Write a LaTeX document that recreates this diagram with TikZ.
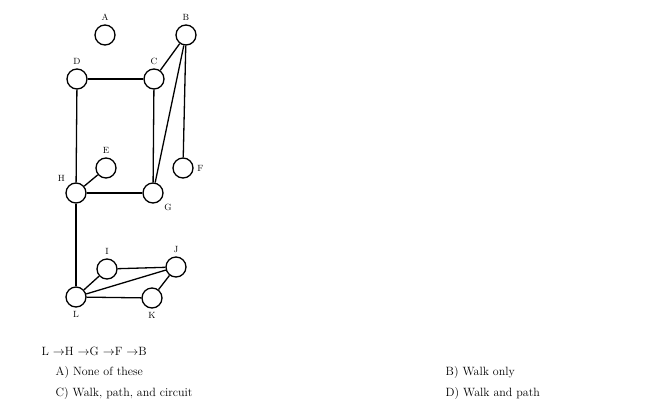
\documentclass[tikz,border=0pt]{standalone}
\usepackage{tikz}
\begin{document}
\begin{tikzpicture}[x=1pt,y=-1pt,thick,
                main node/.style={circle,draw,line width=1.3pt,minimum size=20pt,inner sep=0pt},
                lbl/.style={font=\small},
                txt/.style={anchor=west,font=\fontsize{12}{14}\selectfont}]
                \useasboundingbox (0,0) rectangle (650,405);
                \node[main node,label={[lbl]above:A}] (A) at (105,35) {};
                \node[main node,label={[lbl]above:B}] (B) at (186,35) {};
                \node[main node,label={[lbl]above:D}] (D) at (77,79) {};
                \node[main node,label={[lbl]above:C}] (C) at (154,79) {};
                \node[main node,label={[lbl]above:E}] (E) at (106,168) {};
                \node[main node,label={[lbl]right:F}] (F) at (183,168) {};
                \node[main node,label={[lbl]above left:H}] (H) at (76,193) {};
                \node[main node,label={[lbl]below right:G}] (G) at (153,193) {};
                \node[main node,label={[lbl]above:I}] (I) at (107,269) {};
                \node[main node,label={[lbl]above:J}] (J) at (176,267) {};
                \node[main node,label={[lbl]below:L}] (L) at (76,297) {};
                \node[main node,label={[lbl]below:K}] (K) at (152,298) {};

                \path[line width=1.3pt]
                (D) edge (C)
                (D) edge (H)
                (C) edge (G)
                (C) edge (B)
                (B) edge (G)
                (B) edge (F)
                (H) edge (E)
                (H) edge (G)
                (H) edge (L)
                (L) edge (I)
                (I) edge (J)
                (L) edge (J)
                (L) edge (K)
                (K) edge (J)
                ;

                \node[txt] (q) at (38,351) {L $\rightarrow$H $\rightarrow$G $\rightarrow$F $\rightarrow$B};
                \node[txt] (ansA) at (52,372) {A) None of these};
                \node[txt] (ansC) at (52,393) {C) Walk, path, and circuit};
                \node[txt] (ansB) at (442,372) {B) Walk only};
                \node[txt] (ansD) at (442,393) {D) Walk and path};
                \end{tikzpicture}
\end{document}
